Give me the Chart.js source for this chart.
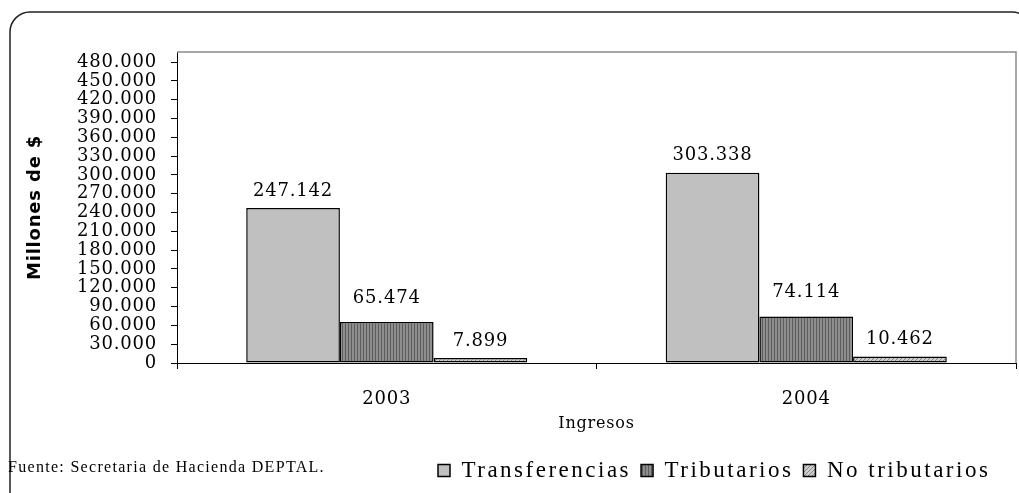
<!DOCTYPE html>
<html><head><meta charset="utf-8">
<script src="https://cdn.jsdelivr.net/npm/chart.js@4/dist/chart.umd.min.js"></script>
<style>html,body{margin:0;padding:0;background:#fff;overflow:hidden}#wrap{width:1019px;height:493px;position:relative}</style>
</head><body><div id="wrap"><canvas id="c" width="1019" height="493"></canvas></div>
<script>
const categories = ['2003', '2004'];
const seriesNames = ['Transferencias', 'Tributarios', 'No tributarios'];
const transferencias = [247142, 303338];
const tributarios = [65474, 74114];
const noTributarios = [7899, 10462];
const yTickMax = 480000;
const yStep = 30000;
const axisTitleY = 'Millones de $';
const axisTitleX = 'Ingresos';
const sourceNote = 'Fuente: Secretaria de Hacienda DEPTAL.';

function fmt(v) { return String(Math.round(v)).replace(/\B(?=(\d{3})+(?!\d))/g, '.'); }

function stripePattern() {
  const c = document.createElement('canvas'); c.width = 3; c.height = 3;
  const x = c.getContext('2d');
  x.fillStyle = '#8e8e8e'; x.fillRect(0, 0, 3, 3);
  x.fillStyle = '#5c5c5c'; x.fillRect(0, 0, 1, 3);
  return x.createPattern(c, 'repeat');
}
function hatchPattern() {
  const c = document.createElement('canvas'); c.width = 4; c.height = 4;
  const x = c.getContext('2d');
  x.fillStyle = '#cfcfcf'; x.fillRect(0, 0, 4, 4);
  x.fillStyle = '#858585';
  for (let i = 0; i < 4; i++) x.fillRect(i, 3 - i, 1, 1);
  return x.createPattern(c, 'repeat');
}

const SERIF = 'DejaVu Serif';
const SPACING = '0.8px';
const LEGEND_SPACING = '2.5px';
const labelGaps = [8, 15, 8];

const deco = {
  id: 'deco',
  afterInit(chart) {
    const lg = chart.legend;
    if (!lg) return;
    const fit = lg.fit.bind(lg), draw = lg.draw.bind(lg);
    lg.fit = function () { const c = chart.ctx, o = c.letterSpacing; c.letterSpacing = LEGEND_SPACING; fit(); c.letterSpacing = o; };
    lg.draw = function () { const c = chart.ctx, o = c.letterSpacing; c.letterSpacing = LEGEND_SPACING; draw(); c.letterSpacing = o; };
  },
  beforeLayout(chart) { chart.ctx.letterSpacing = SPACING; },
  afterLayout(chart) {
    const lg = chart.legend;
    if (lg) { lg.left = 428; lg.right = 1012; lg.width = lg.right - lg.left; }
  },
  beforeDraw(chart) {
    const ctx = chart.ctx;
    ctx.letterSpacing = SPACING;
    ctx.save();
    ctx.strokeStyle = '#222'; ctx.lineWidth = 1.5;
    ctx.beginPath();
    ctx.roundRect(10, 12, 1022, 500, 20);
    ctx.stroke();
    ctx.fillStyle = '#000';
    ctx.letterSpacing = '1.3px';
    ctx.font = '16px "Liberation Serif"';
    ctx.textBaseline = 'middle'; ctx.textAlign = 'left';
    ctx.fillText(sourceNote, 8, 468);
    ctx.restore();
  },
  afterDatasetsDraw(chart) {
    const ctx = chart.ctx, a = chart.chartArea;
    ctx.save();
    ctx.strokeStyle = '#8a8a8a'; ctx.lineWidth = 1.5;
    ctx.beginPath();
    ctx.moveTo(a.left, a.top); ctx.lineTo(a.right, a.top); ctx.lineTo(a.right, a.bottom);
    ctx.stroke();
    ctx.fillStyle = '#000';
    ctx.font = '18px "' + SERIF + '"';
    ctx.textAlign = 'center'; ctx.textBaseline = 'bottom';
    chart.data.datasets.forEach((ds, di) => {
      chart.getDatasetMeta(di).data.forEach((bar, i) => {
        ctx.fillText(fmt(ds.data[i]), bar.x, bar.y - labelGaps[di]);
      });
    });
    ctx.restore();
  }
};

new Chart(document.getElementById('c').getContext('2d'), {
  type: 'bar',
  data: {
    labels: categories,
    datasets: [
      { label: seriesNames[0], data: transferencias, backgroundColor: '#c0c0c0', borderColor: '#000', borderWidth: 1.5 },
      { label: seriesNames[1], data: tributarios, backgroundColor: stripePattern(), borderColor: '#000', borderWidth: 1.5 },
      { label: seriesNames[2], data: noTributarios, backgroundColor: hatchPattern(), borderColor: '#000', borderWidth: 1.5 }
    ]
  },
  options: {
    responsive: false,
    animation: false,
    layout: { padding: { left: 21, right: 3, top: 52, bottom: 1 } },
    datasets: { bar: { categoryPercentage: 0.67, barPercentage: 1.0, borderSkipped: false } },
    scales: {
      x: {
        grid: { offset: true, drawOnChartArea: false, drawTicks: true, tickLength: 6, color: '#000', lineWidth: 1 },
        border: { display: true, color: '#000', width: 1 },
        ticks: { font: { family: SERIF, size: 18 }, color: '#000', padding: 20 },
        title: { display: true, text: axisTitleX, font: { family: SERIF, size: 16 }, color: '#000', padding: { top: 0, bottom: 16 } },
        afterFit(s) { s.height = 86; }
      },
      y: {
        min: 0, max: 496000,
        ticks: { callback: (v) => fmt(v), font: { family: SERIF, size: 18 }, color: '#000', padding: 14, autoSkip: false },
        afterBuildTicks(s) {
          const t = [];
          for (let v = 0; v <= yTickMax; v += yStep) t.push({ value: v });
          s.ticks = t;
        },
        grid: { drawOnChartArea: false, drawTicks: true, tickLength: 6, color: '#000' },
        border: { display: true, color: '#000', width: 1 },
        title: { display: true, text: axisTitleY, font: { family: 'DejaVu Sans', size: 18, weight: 'bold' }, color: '#000', padding: { top: 4, bottom: 0 } },
        afterFit(s) { s.width = 156; }
      }
    },
    plugins: {
      legend: {
        position: 'bottom', align: 'start',
        labels: { font: { family: 'Liberation Serif', size: 23 }, color: '#000', boxWidth: 12, boxHeight: 12, padding: 10 }
      },
      tooltip: { enabled: false }
    }
  },
  plugins: [deco]
});
</script>
</body></html>
